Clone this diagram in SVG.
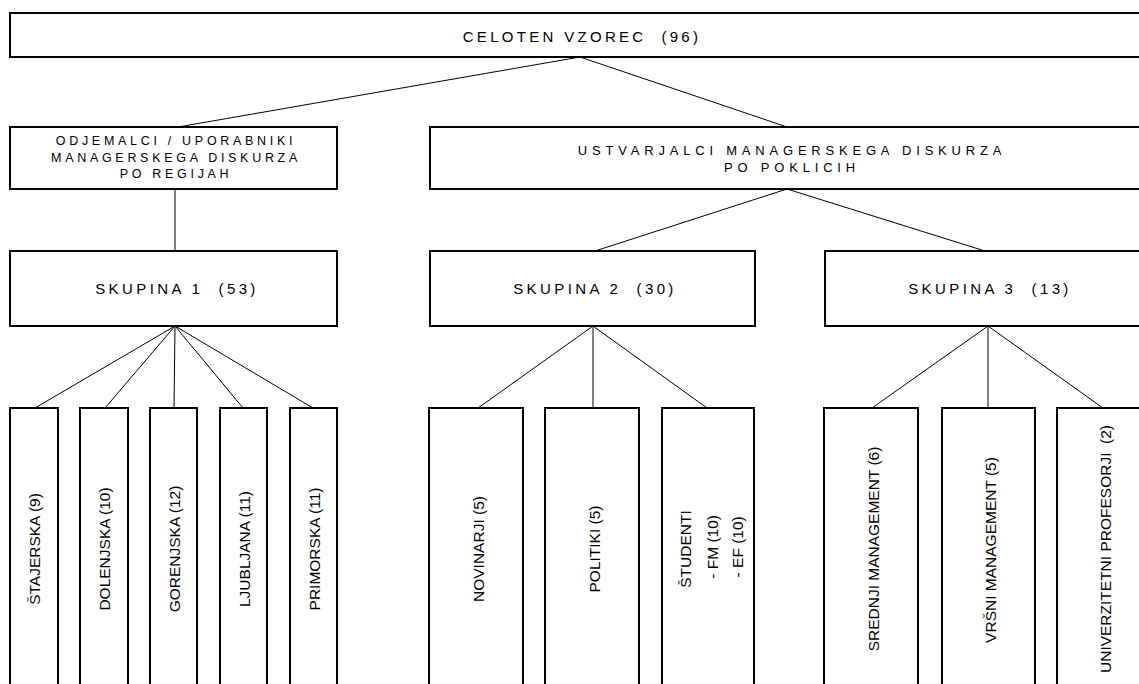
<svg xmlns="http://www.w3.org/2000/svg" width="1139" height="684" viewBox="0 0 1139 684">
<style>
.box{fill:#fff;stroke:#000;stroke-width:2}
.ln{stroke:#000;stroke-width:1;fill:none}
.sp{font-family:"Liberation Sans",Arial,sans-serif;font-size:15px;fill:#000;text-anchor:middle;white-space:pre}
.sm{font-size:12.5px;letter-spacing:3.7px}
.md{font-size:13px;letter-spacing:4.8px}
.v{font-family:"Liberation Sans",Arial,sans-serif;font-size:15.5px;fill:#000;text-anchor:middle;white-space:pre}
</style>
<rect width="1139" height="684" fill="#fff"/>
<g id="connectors">
<line class="ln" x1="580" y1="57" x2="178" y2="127"/>
<line class="ln" x1="580" y1="57" x2="787" y2="127"/>
<line class="ln" x1="175" y1="189" x2="175" y2="251"/>
<line class="ln" x1="787" y1="189" x2="595" y2="251"/>
<line class="ln" x1="787" y1="189" x2="985" y2="251"/>
<line class="ln" x1="175" y1="326" x2="35" y2="408"/>
<line class="ln" x1="175" y1="326" x2="105" y2="408"/>
<line class="ln" x1="175" y1="326" x2="174" y2="408"/>
<line class="ln" x1="175" y1="326" x2="243" y2="408"/>
<line class="ln" x1="175" y1="326" x2="313" y2="408"/>
<line class="ln" x1="593" y1="326" x2="478" y2="408"/>
<line class="ln" x1="593" y1="326" x2="593" y2="408"/>
<line class="ln" x1="593" y1="326" x2="707" y2="408"/>
<line class="ln" x1="988" y1="326" x2="872" y2="408"/>
<line class="ln" x1="988" y1="326" x2="988" y2="408"/>
<line class="ln" x1="988" y1="326" x2="1103" y2="408"/>
</g>
<g id="root">
<rect class="box" x="10" y="13" width="1140" height="44"/>
<text class="sp" x="582" y="42" style="letter-spacing:3.3px">CELOTEN VZOREC  (96)</text>
</g>
<g id="odjemalci">
<rect class="box" x="10" y="127" width="327" height="62"/>
<text class="sp sm" x="176" y="145">ODJEMALCI / UPORABNIKI</text>
<text class="sp sm" x="176" y="162">MANAGERSKEGA DISKURZA</text>
<text class="sp sm" x="176" y="178">PO REGIJAH</text>
</g>
<g id="ustvarjalci">
<rect class="box" x="430" y="127" width="720" height="62"/>
<text class="sp md" x="792" y="155">USTVARJALCI MANAGERSKEGA DISKURZA</text>
<text class="sp md" x="792" y="172">PO POKLICIH</text>
</g>
<g id="skupina1">
<rect class="box" x="10" y="251" width="327" height="75"/>
<text class="sp" x="177" y="294" style="letter-spacing:3.4px">SKUPINA 1  (53)</text>
</g>
<g id="skupina2">
<rect class="box" x="430" y="251" width="325" height="75"/>
<text class="sp" x="595" y="294" style="letter-spacing:3.4px">SKUPINA 2  (30)</text>
</g>
<g id="skupina3">
<rect class="box" x="825" y="251" width="325" height="75"/>
<text class="sp" x="990" y="294" style="letter-spacing:3.4px">SKUPINA 3  (13)</text>
</g>
<g id="stajerska">
<rect class="box" x="10" y="408" width="48" height="290"/>
<text class="v" transform="translate(34,549) rotate(-90)" y="5.5">ŠTAJERSKA (9)</text>
</g>
<g id="dolenjska">
<rect class="box" x="80" y="408" width="48" height="290"/>
<text class="v" transform="translate(104,549) rotate(-90)" y="5.5">DOLENJSKA (10)</text>
</g>
<g id="gorenjska">
<rect class="box" x="150" y="408" width="47" height="290"/>
<text class="v" transform="translate(174,549) rotate(-90)" y="5.5">GORENJSKA (12)</text>
</g>
<g id="ljubljana">
<rect class="box" x="220" y="408" width="47" height="290"/>
<text class="v" transform="translate(244,549) rotate(-90)" y="5.5">LJUBLJANA (11)</text>
</g>
<g id="primorska">
<rect class="box" x="290" y="408" width="47" height="290"/>
<text class="v" transform="translate(314,549) rotate(-90)" y="5.5">PRIMORSKA (11)</text>
</g>
<g id="novinarji">
<rect class="box" x="429" y="408" width="94" height="290"/>
<text class="v" transform="translate(478,549) rotate(-90)" y="5.5">NOVINARJI (5)</text>
</g>
<g id="politiki">
<rect class="box" x="545" y="408" width="94" height="290"/>
<text class="v" transform="translate(594,549) rotate(-90)" y="5.5">POLITIKI (5)</text>
</g>
<g id="studenti">
<rect class="box" x="662" y="408" width="92" height="290"/>
<text class="v" transform="translate(685,549) rotate(-90)" y="5.5">ŠTUDENTI</text>
<text class="v" transform="translate(712,549) rotate(-90)" y="5.5"> - FM (10)</text>
<text class="v" transform="translate(737,549) rotate(-90)" y="5.5"> - EF (10)</text>
</g>
<g id="srednji">
<rect class="box" x="824" y="408" width="94" height="290"/>
<text class="v" transform="translate(873,549) rotate(-90)" y="5.5">SREDNJI MANAGEMENT (6)</text>
</g>
<g id="vrsni">
<rect class="box" x="942" y="408" width="93" height="290"/>
<text class="v" transform="translate(990,550) rotate(-90)" y="5.5">VRŠNI MANAGEMENT (5)</text>
</g>
<g id="univerzitetni">
<rect class="box" x="1057" y="408" width="93" height="290"/>
<text class="v" transform="translate(1105,549) rotate(-90)" y="5.5">UNIVERZITETNI PROFESORJI  (2)</text>
</g>
</svg>
